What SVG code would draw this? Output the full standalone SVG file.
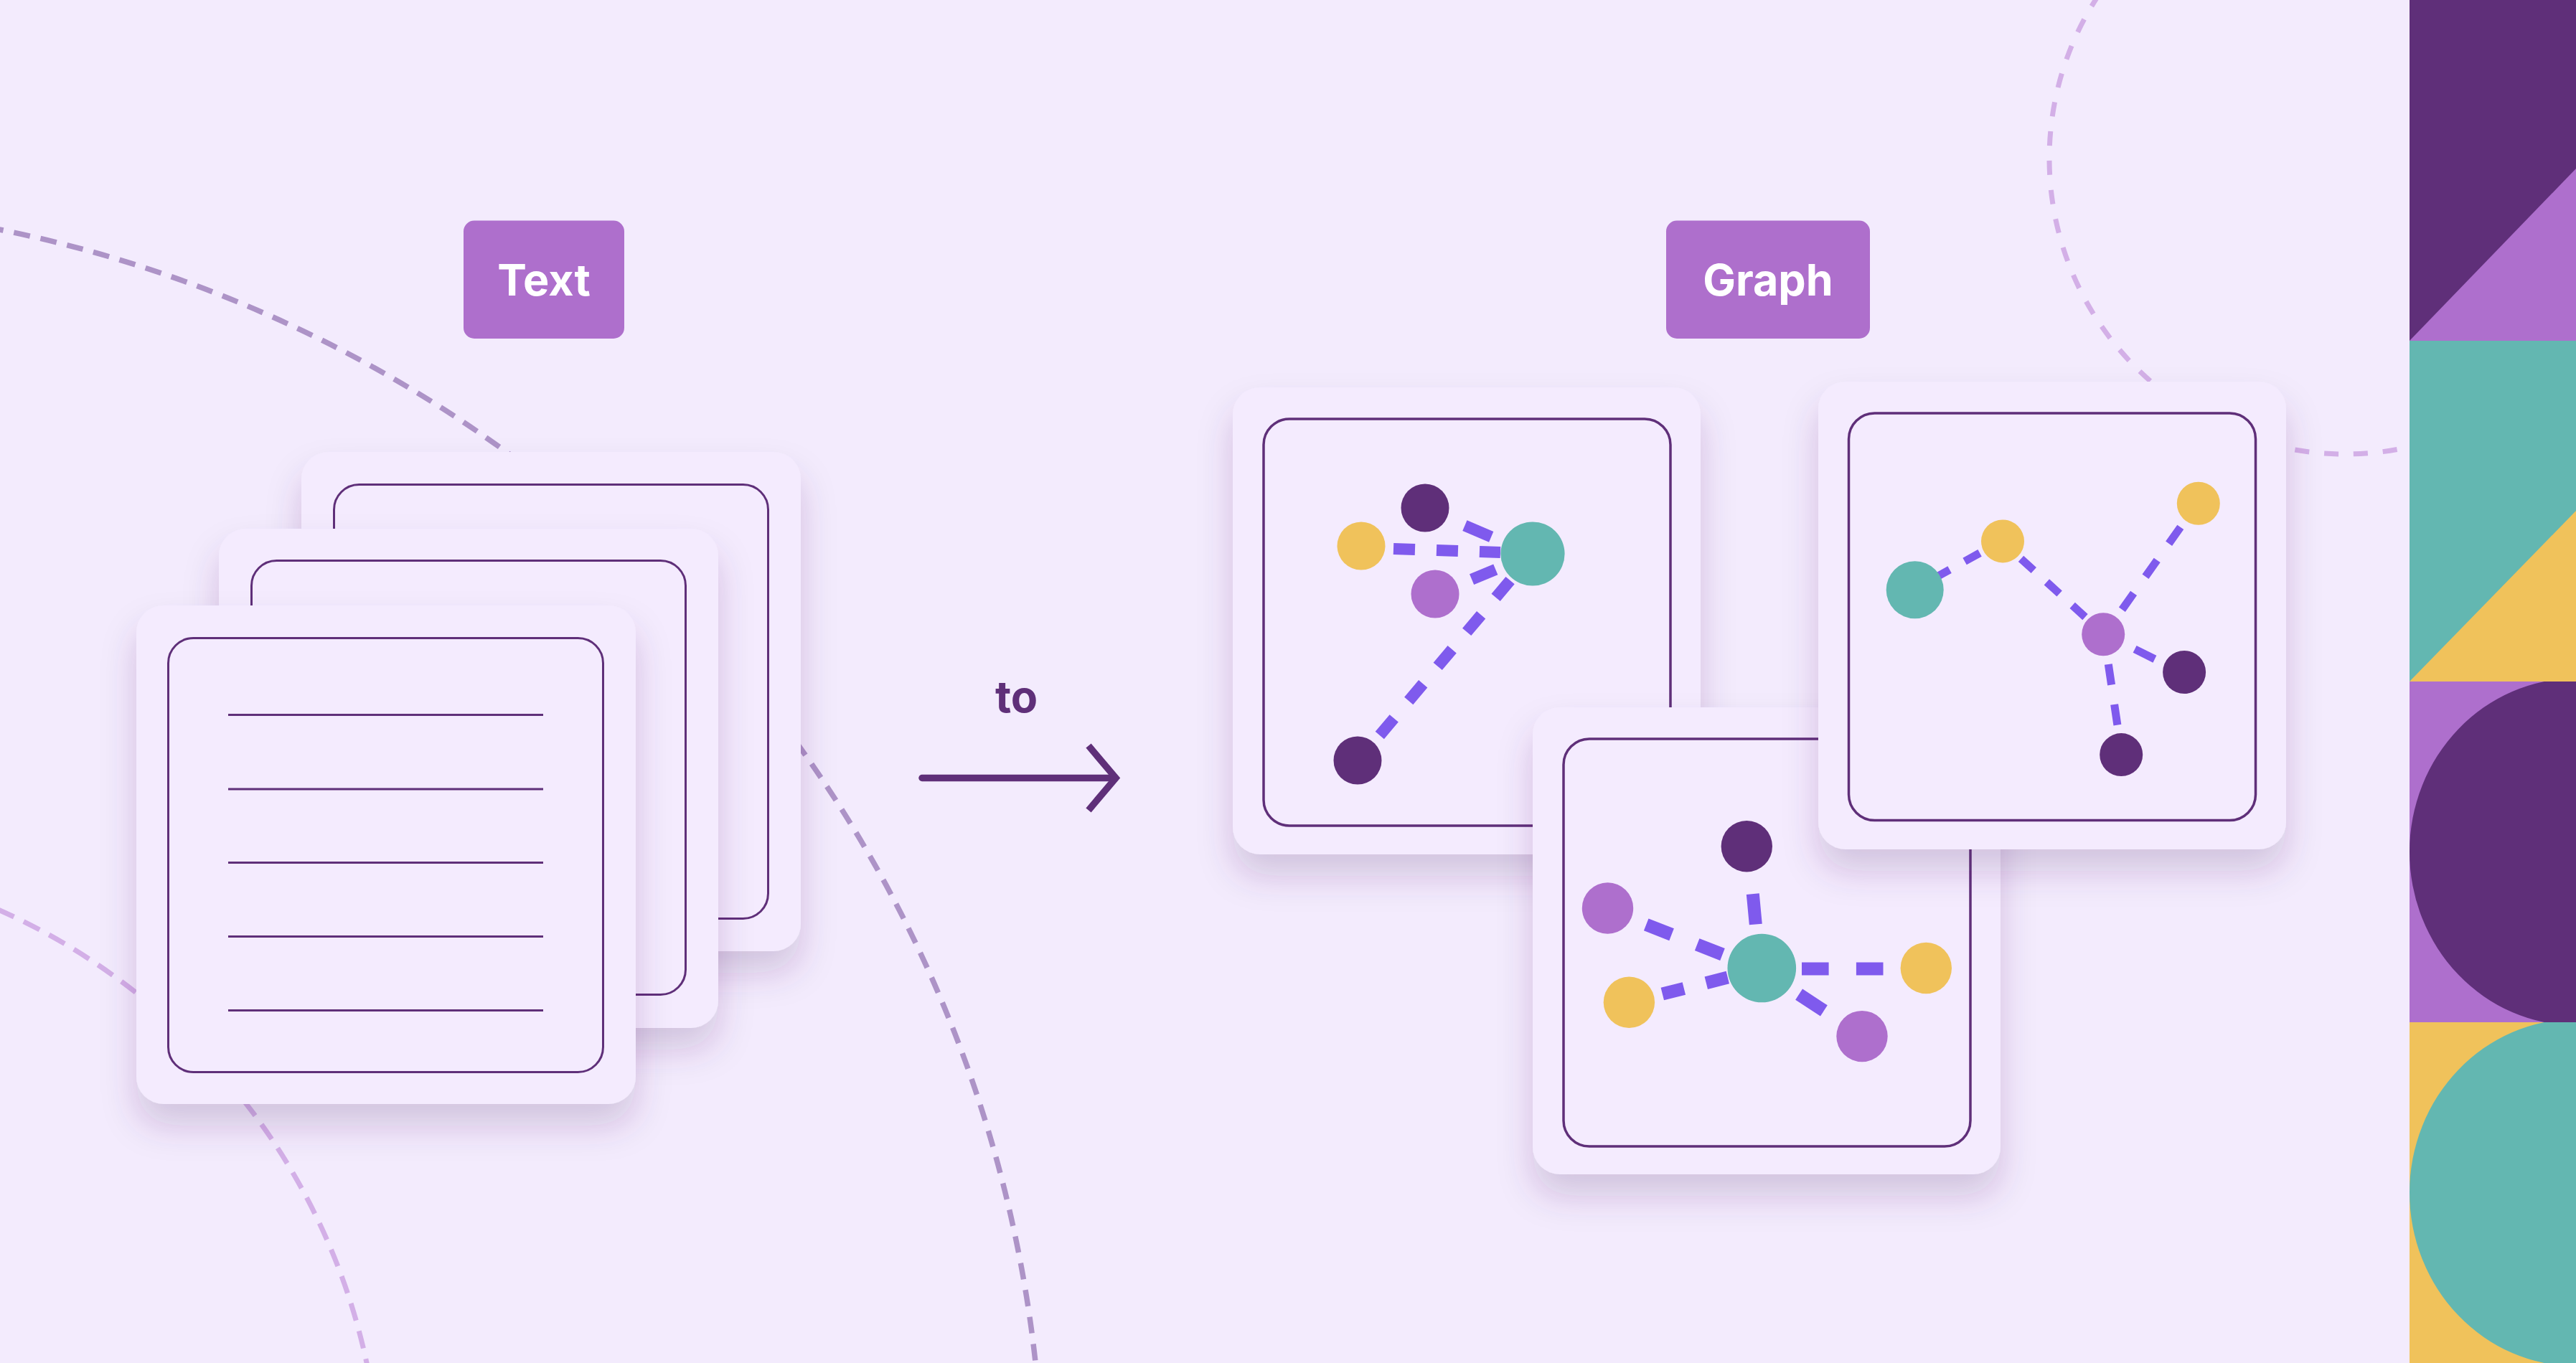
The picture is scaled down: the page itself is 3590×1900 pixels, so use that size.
<svg xmlns="http://www.w3.org/2000/svg" width="3590" height="1900" viewBox="0 0 3590 1900">
  <defs>
    <filter id="shadow" x="-20%" y="-20%" width="140%" height="150%">
      <feDropShadow dx="0" dy="30" stdDeviation="24" flood-color="#4b2a6b" flood-opacity="0.2"/>
    </filter>
    <clipPath id="band3"><rect x="3358" y="950" width="232" height="475"/></clipPath>
    <clipPath id="band4"><rect x="3358" y="1425" width="232" height="475"/></clipPath>
  </defs>
  <style>
    .card { fill: #f4ebfe; filter: url(#shadow); }
    .frame { fill: none; stroke: #5f2f79; stroke-width: 3; }
    .gframe { fill: none; stroke: #5f2f79; stroke-width: 3.5; }
    .rule { stroke: #5f2f79; stroke-width: 3; }
    .arcA { fill: none; stroke: #ad93c7; stroke-width: 7.5; stroke-dasharray: 23 15; }
    .arcB { fill: none; stroke: #d3afe7; stroke-width: 7; stroke-dasharray: 25 15; }
    .arcC { fill: none; stroke: #d3afe7; stroke-width: 7; stroke-dasharray: 20 21; }
    .label { fill: #ae6fcc; }
    .labeltext { font-family: Inter, "Liberation Sans", sans-serif; font-weight: 700; font-size: 61px; fill: #ffffff; text-anchor: middle; }
    .edge { stroke: #7f5aed; fill: none; stroke-linecap: butt; }
    .ea { stroke-width: 16; }
    .eb { stroke-width: 11; }
    .ec { stroke-width: 18; }
    .dark { fill: #5f2f79; }
    .yellow { fill: #f0c25b; }
    .teal { fill: #63b7b1; }
    .lilac { fill: #ae6fcd; }
  </style>

  <rect x="0" y="0" width="3590" height="1900" fill="#f3ebfd"/>

  <!-- background dashed arcs -->
  <g id="background-arcs">
    <circle class="arcA" cx="-360" cy="2098" r="1814"/>
    <circle class="arcB" cx="-366" cy="2088" r="897"/>
    <circle class="arcC" cx="3268" cy="221" r="412"/>
  </g>

  <!-- labels -->
  <g id="label-text">
    <rect class="label" x="646" y="307.5" width="224" height="164.5" rx="15"/>
    <text class="labeltext" x="758" y="412">Text</text>
  </g>
  <g id="label-graph">
    <rect class="label" x="2322" y="307.5" width="284" height="164.5" rx="15"/>
    <text class="labeltext" x="2464" y="412">Graph</text>
  </g>

  <!-- text document stack -->
  <g id="doc-back">
    <rect class="card" x="420" y="630" width="696" height="696" rx="38"/>
    <rect class="frame" x="465.5" y="675.5" width="605" height="605" rx="35"/>
  </g>
  <g id="doc-middle">
    <rect class="card" x="305" y="737" width="696" height="696" rx="38"/>
    <rect class="frame" x="350.5" y="781.5" width="605" height="605" rx="35"/>
  </g>
  <g id="doc-front">
    <rect class="card" x="190" y="844" width="696" height="695" rx="38"/>
    <rect class="frame" x="234.5" y="889.5" width="606" height="605" rx="35"/>
    <line class="rule" x1="318" y1="996.5" x2="757" y2="996.5"/>
    <line class="rule" x1="318" y1="1100" x2="757" y2="1100"/>
    <line class="rule" x1="318" y1="1202.5" x2="757" y2="1202.5"/>
    <line class="rule" x1="318" y1="1305.5" x2="757" y2="1305.5"/>
    <line class="rule" x1="318" y1="1408.5" x2="757" y2="1408.5"/>
  </g>

  <!-- arrow -->
  <g id="arrow-to">
    <text x="1416.5" y="993" font-family="Inter, 'Liberation Sans', sans-serif" font-weight="700" font-size="61" fill="#5f2f79" text-anchor="middle">to</text>
    <g id="connectors-arrow">
      <line x1="1285" y1="1084.5" x2="1552" y2="1084.5" stroke="#5f2f79" stroke-width="9.5" stroke-linecap="round"/>
      <polyline points="1517,1039.5 1555,1084.5 1517,1129.5" fill="none" stroke="#5f2f79" stroke-width="9.5" stroke-linejoin="miter" stroke-linecap="butt"/>
    </g>
  </g>

  <!-- graph card A -->
  <g id="graph-card-a">
    <rect class="card" x="1718" y="540" width="652" height="651" rx="38"/>
    <rect class="gframe" x="1761" y="584" width="567" height="567" rx="36"/>
    <g id="edges-a">
      <line class="edge ea" x1="1942" y1="765" x2="2091" y2="770" stroke-dasharray="30 30"/>
      <line class="edge ea" x1="2041.4" y1="732.7" x2="2078.2" y2="748.3"/>
      <line class="edge ea" x1="2051.1" y1="807.7" x2="2084.3" y2="793.9"/>
      <line class="edge ea" x1="2104.6" y1="809.2" x2="1922.6" y2="1025.2" stroke-dasharray="31 31.8"/>
    </g>
    <g id="nodes-a">
      <circle id="a-n1" class="dark" cx="1986" cy="708" r="33.5"/>
      <circle id="a-n2" class="yellow" cx="1897" cy="761" r="33.5"/>
      <circle id="a-n3" class="teal" cx="2136" cy="772" r="44.6"/>
      <circle id="a-n4" class="lilac" cx="2000" cy="828" r="33.5"/>
      <circle id="a-n5" class="dark" cx="1892" cy="1060" r="33.5"/>
    </g>
  </g>

  <!-- graph card C -->
  <g id="graph-card-c">
    <rect class="card" x="2136" y="986" width="652" height="651" rx="38"/>
    <rect class="gframe" x="2179" y="1030" width="567" height="568" rx="36"/>
    <g id="edges-c">
      <line class="edge ec" x1="2442.8" y1="1246.1" x2="2446.8" y2="1288.5"/>
      <line class="edge ec" x1="2294.2" y1="1288.9" x2="2400.5" y2="1330.5" stroke-dasharray="38 38.2"/>
      <line class="edge ec" x1="2316.8" y1="1385.6" x2="2407.8" y2="1362.6" stroke-dasharray="31 31.9"/>
      <line class="edge ec" x1="2511" y1="1350.5" x2="2624.5" y2="1350.5" stroke-dasharray="37.6 38.3"/>
      <line class="edge ec" x1="2507.1" y1="1386.1" x2="2541.9" y2="1408.9"/>
    </g>
    <g id="nodes-c">
      <circle id="c-n1" class="dark" cx="2434.3" cy="1179.8" r="35.7"/>
      <circle id="c-n2" class="lilac" cx="2240.5" cy="1266" r="35.7"/>
      <circle id="c-n3" class="teal" cx="2455.3" cy="1349.5" r="47.8"/>
      <circle id="c-n4" class="yellow" cx="2270.4" cy="1397.2" r="35.7"/>
      <circle id="c-n5" class="yellow" cx="2684.3" cy="1349.5" r="35.7"/>
      <circle id="c-n6" class="lilac" cx="2595" cy="1444.6" r="35.7"/>
    </g>
  </g>

  <!-- graph card B -->
  <g id="graph-card-b">
    <rect class="card" x="2534" y="532" width="652" height="652" rx="38"/>
    <rect class="gframe" x="2576.5" y="576" width="567" height="567.5" rx="36"/>
    <g id="edges-b">
      <line class="edge eb" x1="2696.1" y1="805.8" x2="2759.1" y2="770.9" stroke-dasharray="24 24"/>
      <line class="edge eb" x1="2816.5" y1="778.9" x2="2906.1" y2="860.2" stroke-dasharray="24 24.4"/>
      <line class="edge eb" x1="3038.8" y1="734.9" x2="2957.4" y2="849.7" stroke-dasharray="28 28.4"/>
      <line class="edge eb" x1="2975.1" y1="904.9" x2="3002.9" y2="918.7"/>
      <line class="edge eb" x1="2938.3" y1="926" x2="2950.9" y2="1010.6" stroke-dasharray="29 27.6"/>
    </g>
    <g id="nodes-b">
      <circle id="b-n1" class="teal" cx="2668.7" cy="822.2" r="40"/>
      <circle id="b-n2" class="yellow" cx="2791" cy="754.4" r="30"/>
      <circle id="b-n3" class="yellow" cx="3063.8" cy="701.7" r="30"/>
      <circle id="b-n4" class="lilac" cx="2931.2" cy="884.3" r="30"/>
      <circle id="b-n5" class="dark" cx="3044.1" cy="937" r="30"/>
      <circle id="b-n6" class="dark" cx="2956.2" cy="1052.1" r="30"/>
    </g>
  </g>

  <!-- decorative strip -->
  <g id="strip">
    <rect x="3358" y="0" width="232" height="475" class="dark"/>
    <polygon points="3358,475 3590,235 3590,475" class="lilac"/>
    <rect x="3358" y="475" width="232" height="475" class="teal"/>
    <polygon points="3358,950 3590,712 3590,950" class="yellow"/>
    <rect x="3358" y="950" width="232" height="475" class="lilac"/>
    <ellipse cx="3590" cy="1187.5" rx="232" ry="242" class="dark" clip-path="url(#band3)"/>
    <rect x="3358" y="1425" width="232" height="475" class="yellow"/>
    <ellipse cx="3590" cy="1662.5" rx="232" ry="242" class="teal" clip-path="url(#band4)"/>
  </g>
</svg>
